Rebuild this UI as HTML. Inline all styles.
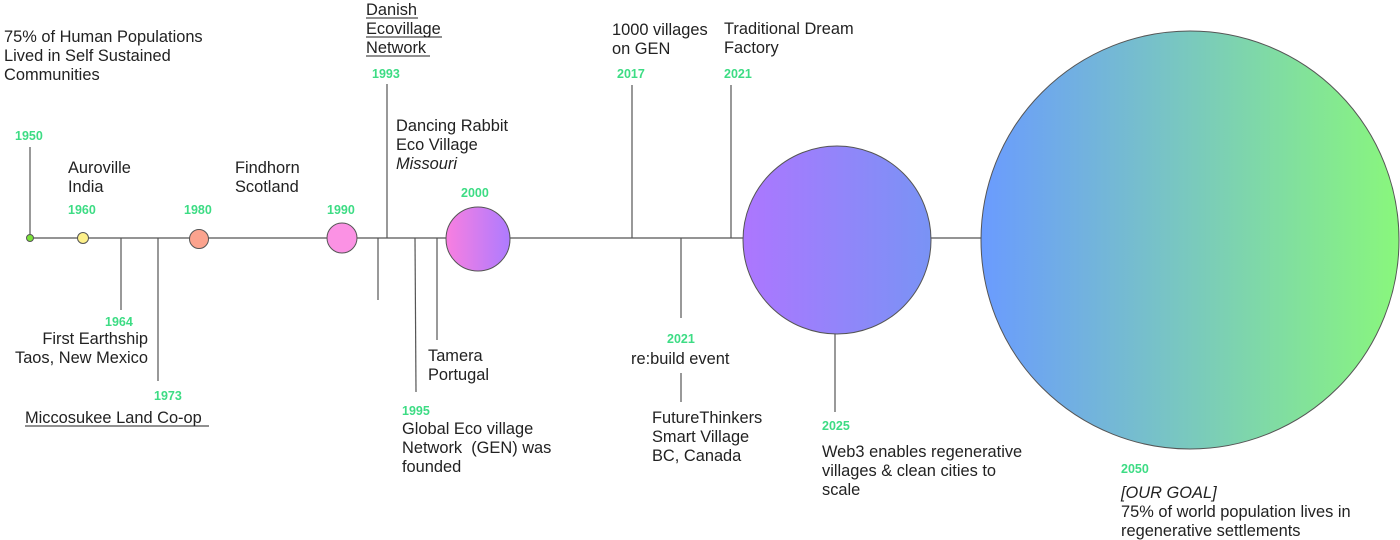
<!DOCTYPE html>
<html><head><meta charset="utf-8"><style>
html,body{margin:0;padding:0;background:#fff;}
svg{display:block;}
text{font-family:"Liberation Sans",sans-serif;font-size:16.4px;fill:#222;}
.y{font-size:12.5px;font-weight:bold;fill:#3ddc84;}
</style></head><body>
<svg width="1400" height="540" viewBox="0 0 1400 540">
<defs>
<linearGradient id="g1" x1="0" x2="1" y1="0" y2="0"><stop offset="0" stop-color="#f97fe0"/><stop offset="1" stop-color="#ad7bff"/></linearGradient>
<linearGradient id="g2" x1="0" x2="1" y1="0" y2="0"><stop offset="0" stop-color="#ad76ff"/><stop offset="1" stop-color="#7993f5"/></linearGradient>
<linearGradient id="g3" x1="0" x2="1" y1="0" y2="0"><stop offset="0" stop-color="#6a9bff"/><stop offset="1" stop-color="#89f77c"/></linearGradient>
</defs>
<g stroke="#555" stroke-width="1.2" fill="none">
<line x1="30" y1="238" x2="1190" y2="238"/>
<line x1="30" y1="147" x2="30" y2="238"/>
<line x1="121" y1="238" x2="121" y2="310"/>
<line x1="158" y1="238" x2="158" y2="381"/>
<line x1="378" y1="238" x2="378" y2="300"/>
<line x1="387" y1="84" x2="387" y2="238"/>
<line x1="415" y1="238" x2="416" y2="392"/>
<line x1="437" y1="238" x2="437" y2="340"/>
<line x1="632" y1="85" x2="632" y2="238"/>
<line x1="681" y1="238" x2="681" y2="318"/>
<line x1="681" y1="373" x2="681" y2="402"/>
<line x1="731" y1="85" x2="731" y2="238"/>
<line x1="835" y1="330" x2="835" y2="412"/>
</g>
<g stroke="#555" stroke-width="1">
<circle cx="30" cy="238" r="3.5" fill="#7be33a"/>
<circle cx="83" cy="238" r="5.5" fill="#fdf08a"/>
<circle cx="199" cy="239" r="9.5" fill="#fba38e"/>
<circle cx="342" cy="238" r="15" fill="#fb92e4"/>
<circle cx="478" cy="239" r="32" fill="url(#g1)"/>
<circle cx="837" cy="240" r="94" fill="url(#g2)"/>
<circle cx="1190" cy="240" r="209" fill="url(#g3)"/>
</g>
<text x="4" y="42">75% of Human Populations</text>
<text x="4" y="61">Lived in Self Sustained</text>
<text x="4" y="80">Communities</text>
<text class="y" x="15" y="140">1950</text>
<text x="68" y="173">Auroville</text><text x="68" y="192">India</text>
<text class="y" x="68" y="214">1960</text>
<text class="y" x="184" y="214">1980</text>
<text x="235" y="173">Findhorn</text><text x="235" y="192">Scotland</text>
<text class="y" x="327" y="214">1990</text>
<text x="366" y="15">Danish</text>
<text x="366" y="34">Ecovillage</text>
<text x="366" y="53">Network</text>
<line x1="366" y1="18" x2="418" y2="18" stroke="#222"/>
<line x1="366" y1="37" x2="442" y2="37" stroke="#222"/>
<line x1="366" y1="56" x2="430" y2="56" stroke="#222"/>
<text class="y" x="372" y="78">1993</text>
<text x="396" y="131">Dancing Rabbit</text><text x="396" y="150">Eco Village</text>
<text x="396" y="169" font-style="italic">Missouri</text>
<text class="y" x="461" y="197">2000</text>
<text x="612" y="35">1000 villages</text><text x="612" y="54">on GEN</text>
<text class="y" x="617" y="78">2017</text>
<text x="724" y="34">Traditional Dream</text><text x="724" y="53">Factory</text>
<text class="y" x="724" y="78">2021</text>
<text class="y" x="105" y="326">1964</text>
<text x="148" y="344" text-anchor="end">First Earthship</text>
<text x="148" y="363" text-anchor="end">Taos, New Mexico</text>
<text class="y" x="154" y="400">1973</text>
<text x="25" y="423">Miccosukee Land Co-op</text>
<line x1="25" y1="426" x2="209" y2="426" stroke="#222"/>
<text x="428" y="361">Tamera</text><text x="428" y="380">Portugal</text>
<text class="y" x="402" y="415">1995</text>
<text x="402" y="434">Global Eco village</text>
<text x="402" y="453" xml:space="preserve">Network  (GEN) was</text>
<text x="402" y="472">founded</text>
<text class="y" x="667" y="343">2021</text>
<text x="631" y="364">re:build event</text>
<text x="652" y="423">FutureThinkers</text><text x="652" y="442">Smart Village</text><text x="652" y="461">BC, Canada</text>
<text class="y" x="822" y="430">2025</text>
<text x="822" y="457">Web3 enables regenerative</text>
<text x="822" y="476">villages &amp; clean cities to</text>
<text x="822" y="495">scale</text>
<text class="y" x="1121" y="473">2050</text>
<text x="1121" y="498" font-style="italic">[OUR GOAL]</text>
<text x="1121" y="517">75% of world population lives in</text>
<text x="1121" y="536">regenerative settlements</text>
</svg>
</body></html>
